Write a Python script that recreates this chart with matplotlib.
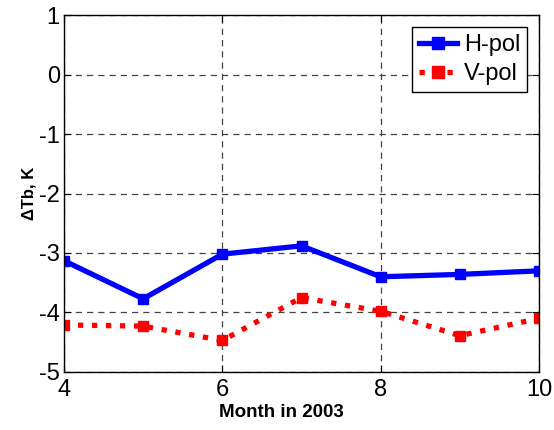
import numpy as np
import matplotlib
matplotlib.use("Agg")
import matplotlib.pyplot as plt

months = [4, 5, 6, 7, 8, 9, 10]
h_pol = [-3.13, -3.77, -3.02, -2.88, -3.40, -3.36, -3.30]
v_pol = [-4.21, -4.23, -4.47, -3.75, -3.98, -4.39, -4.10]

plt.rcParams['font.family'] = ['Liberation Sans', 'DejaVu Sans']
plt.rcParams['axes.unicode_minus'] = False

fig = plt.figure(figsize=(5.54, 4.30), dpi=100)
ax = fig.add_axes([0.1155, 0.135, 0.8575, 0.830])

ax.plot(months, h_pol, '-s', color='#0000ff', lw=3.8, ms=7.5, label='H-pol')
ax.plot(months, v_pol, ':s', color='#ff0000', lw=3.8, ms=7.5, label='V-pol')

ax.set_xlim(4, 10)
ax.set_ylim(-5, 1)
ax.set_xticks([4, 6, 8, 10])
ax.set_yticks(range(-5, 2))
ax.tick_params(direction='in', labelsize=17, length=5, top=True, right=True, pad=3)
ax.tick_params(axis='x', pad=5)
ax.grid(True, color='#444444', linestyle=(0, (5, 4)), linewidth=0.9)
for s in ax.spines.values():
    s.set_linewidth(1.0)

ax.set_xlabel('Month in 2003', fontsize=13.5, fontweight='bold')
ax.xaxis.set_label_coords(0.458, -0.09)
ax.set_ylabel('ΔTb, K', fontsize=12, fontweight='bold', labelpad=2)

leg = ax.legend(loc='upper right', fontsize=17, handlelength=1.6, fancybox=False,
                framealpha=1, edgecolor='black', borderpad=0.3,
                labelspacing=0.3, handletextpad=0.3, borderaxespad=0.5,
                markerscale=1.2)
leg.get_frame().set_linewidth(1.0)

fig.savefig('out.png', dpi=100)
